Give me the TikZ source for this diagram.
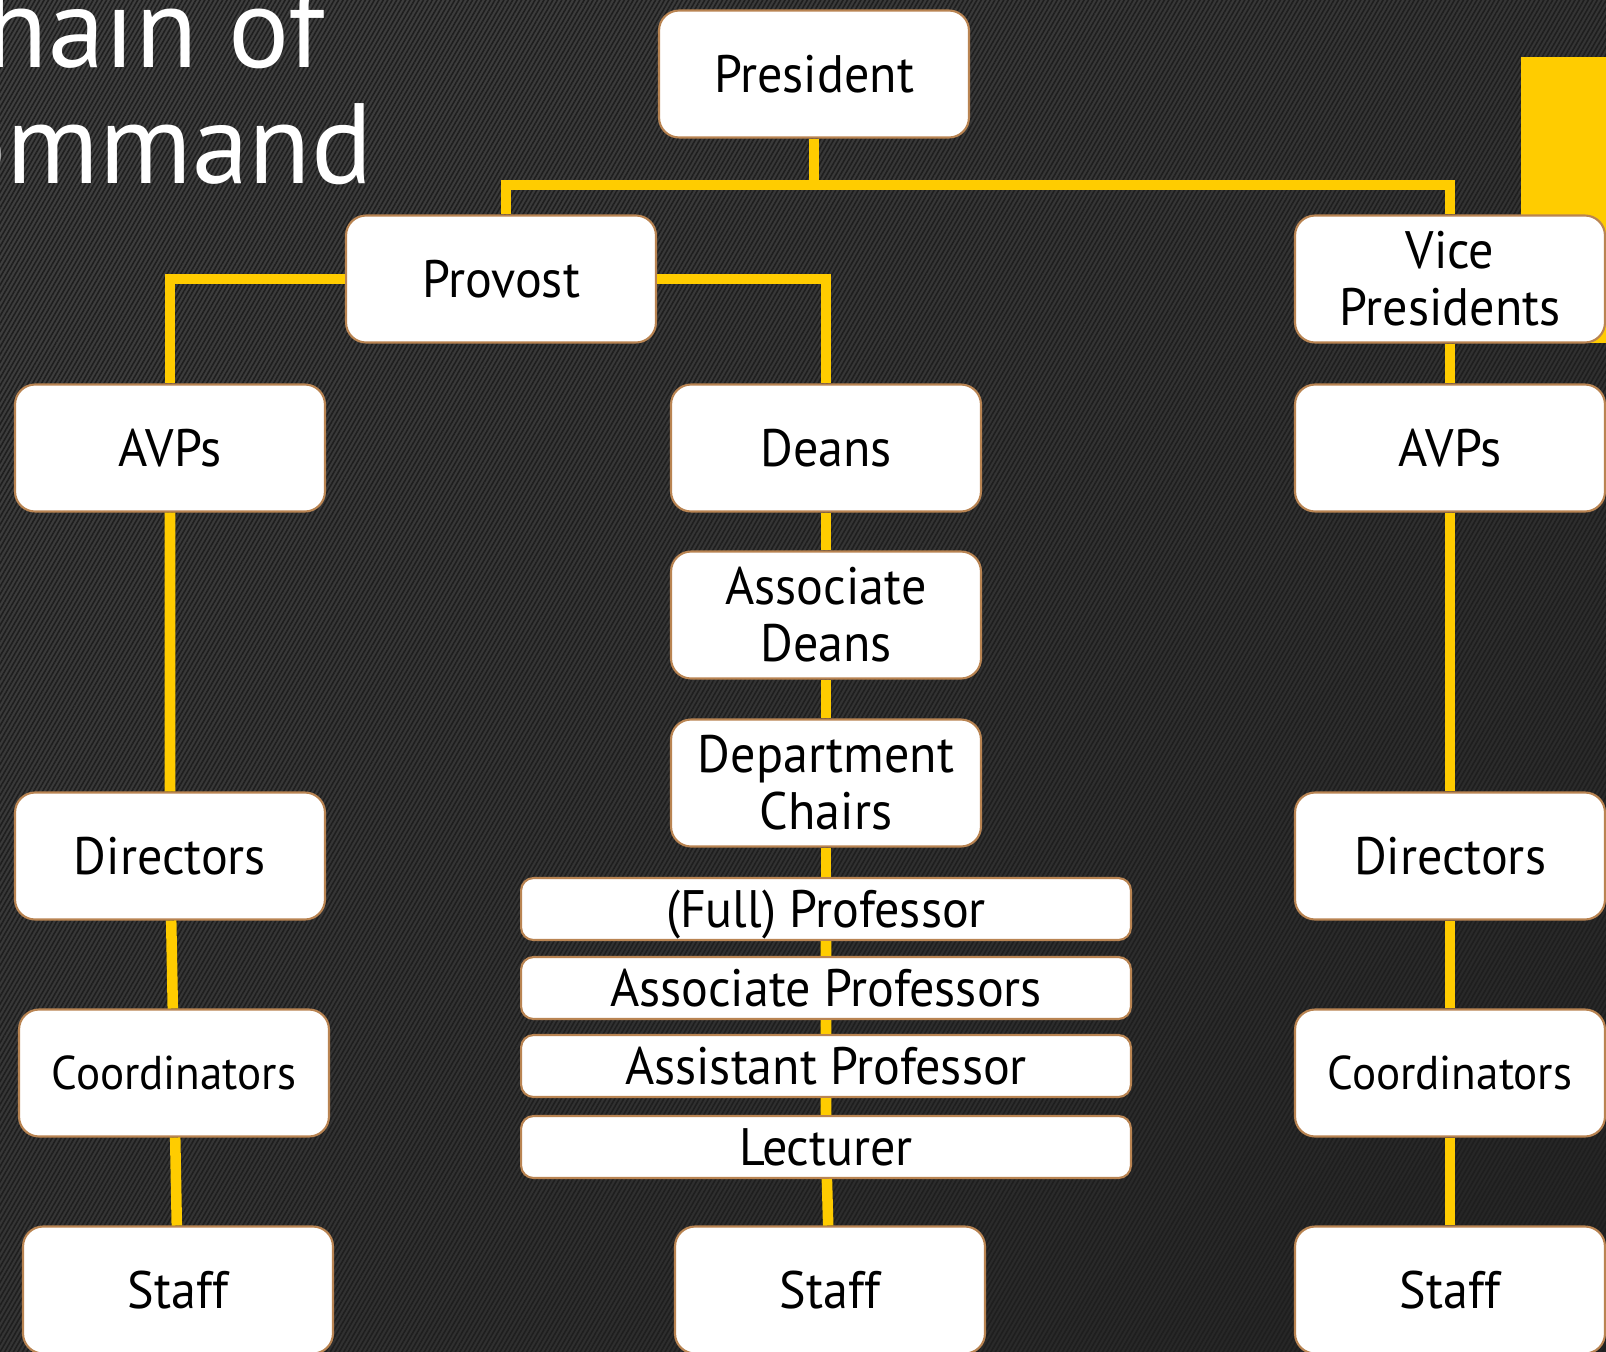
\documentclass[tikz,border=0pt]{standalone}
\usepackage{fontspec}
\setmainfont[FakeStretch=0.95]{PT Sans}
\newfontfamily\headfont{PT Sans}
\usetikzlibrary{patterns.meta, shadings}

\definecolor{slateA}{HTML}{414141}
\definecolor{slateB}{HTML}{353535}
\definecolor{slateC}{HTML}{232323}
\definecolor{stripe}{HTML}{1E1E1E}
\definecolor{gold}{HTML}{FFCC00}
\definecolor{rim}{HTML}{B98452}

\begin{document}
\begin{tikzpicture}[x=0.02cm, y=-0.02cm,
    box/.style={draw=rim, line width=1.2pt, fill=white, rounded corners=0.4cm,
        minimum width=6.2cm, minimum height=2.54cm, align=center, inner sep=2pt,
        font=\fontsize{30}{32.5}\selectfont},
    rank/.style={box, minimum width=12.2cm, minimum height=1.24cm, rounded corners=0.25cm,
        text height=21pt, text depth=0pt},
    link/.style={draw=gold, line width=6pt},
    title/.style={anchor=base west, inner sep=0pt, text=white, font=\headfont\fontsize{65}{68}\selectfont}]

    % Background
    \useasboundingbox (0,0) rectangle (1606,1352);
    \clip (0,0) rectangle (1606,1352);
    \shade[upper left=slateA, upper right=slateB, lower left=slateB, lower right=slateC]
        (0,0) rectangle (1606,1352);
    \fill[pattern={Lines[angle=60, distance=2.2pt, line width=0.9pt]}, pattern color=stripe]
        (0,0) rectangle (1606,1352);

    % Title
    \node[title] (title1) at (-80,67) {Chain of};
    \node[title] (title2) at (-116,183) {Command};

    % Accent bar
    \fill[gold] (1521,57) rectangle (1606,343);

    % Top levels
    \node[box] (president) at (814,74) {President};
    \node[box] (provost) at (501,279) {Provost};
    \node[box] (vp) at (1450,279) {Vice\\Presidents};

    % Left column
    \node[box] (avpL) at (170,448) {AVPs};
    \node[box] (dirL) at (170,856) {Directors};
    \node[box, font=\fontsize{27}{30}\selectfont] (coordL) at (174,1073) {Coordinators};
    \node[box] (staffL) at (178,1290) {Staff};

    % Middle column
    \node[box] (deans) at (826,448) {Deans};
    \node[box] (adeans) at (826,615) {Associate\\Deans};
    \node[box] (chairs) at (826,783) {Department\\Chairs};
    \node[rank] (full) at (826,909) {(Full) Professor};
    \node[rank] (assoc) at (826,988) {Associate Professors};
    \node[rank] (asst) at (826,1066) {Assistant Professor};
    \node[rank] (lect) at (826,1147) {Lecturer};
    \node[box] (staffM) at (830,1290) {Staff};

    % Right column
    \node[box] (avpR) at (1450,448) {AVPs};
    \node[box] (dirR) at (1450,856) {Directors};
    \node[box, font=\fontsize{27}{30}\selectfont] (coordR) at (1450,1073) {Coordinators};
    \node[box] (staffR) at (1450,1290) {Staff};

    % Connectors
    \coordinate (bus) at (814,185);
    \draw[link] (president.south) -- (bus) -| ([xshift=0.1cm]provost.north);
    \draw[link] (bus) -| (vp.north);
    \draw[link] (provost.west) -| (avpL.north);
    \draw[link] (provost.east) -| (deans.north);
    \draw[link] (avpL) -- (dirL) (dirL) -- (coordL) (coordL) -- (staffL);
    \draw[link] (deans) -- (adeans) (adeans) -- (chairs) (chairs) -- (full);
    \draw[link] (full) -- (assoc) (assoc) -- (asst) (asst) -- (lect) (lect) -- (staffM);
    \draw[link] (vp) -- (avpR) (avpR) -- (dirR) (dirR) -- (coordR) (coordR) -- (staffR);
\end{tikzpicture}
\end{document}
